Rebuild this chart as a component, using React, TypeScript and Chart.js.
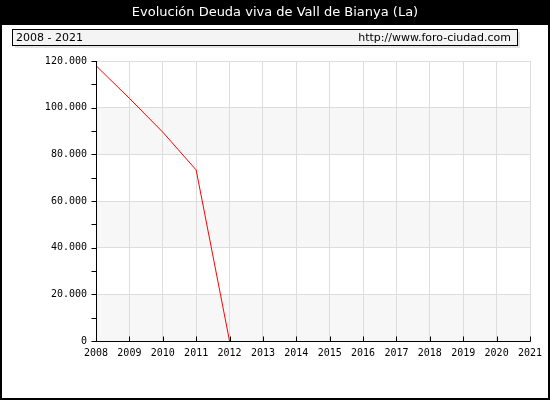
import React, { useEffect, useRef } from "react";
import { Chart, registerables } from "chart.js";
Chart.register(...registerables);

const title = "Evolución Deuda viva de Vall de Bianya (La)";
const periodLabel = "2008 - 2021";
const sourceLabel = "http://www.foro-ciudad.com";
const years = ["2008", "2009", "2010", "2011", "2012", "2013", "2014", "2015", "2016", "2017", "2018", "2019", "2020", "2021"];
const debt: (number | null)[] = [118000, 104000, 89500, 73300, 0, null, null, null, null, null, null, null, null, null];
const yMin = 0;
const yMax = 120000;
const yStep = 20000;
const yMinorStep = 10000;

const fmt = (v: number) => (v === 0 ? "0" : v.toLocaleString("de-DE"));

const decor = {
  id: "decor",
  beforeDraw(chart: any) {
    const { ctx, width, height, chartArea } = chart;
    ctx.save();
    ctx.fillStyle = "#ffffff";
    ctx.fillRect(0, 0, width, height);
    // title bar
    ctx.fillStyle = "#000000";
    ctx.fillRect(0, 0, width, 25);
    ctx.fillStyle = "#ffffff";
    ctx.font = '13px "DejaVu Sans"';
    ctx.textAlign = "center";
    ctx.textBaseline = "middle";
    ctx.fillText(title, width / 2, 13);
    // outer frame
    ctx.strokeStyle = "#000000";
    ctx.lineWidth = 2;
    ctx.strokeRect(1, 1, width - 2, height - 2);
    // header box shadow
    ctx.fillStyle = "#e4e4e4";
    ctx.fillRect(15, 32, 505, 16);
    ctx.fillStyle = "#f4f4f4";
    ctx.fillRect(12, 29, 505, 16);
    ctx.lineWidth = 1;
    ctx.strokeRect(12.5, 29.5, 505, 16);
    ctx.fillStyle = "#000000";
    ctx.font = '11px "DejaVu Sans"';
    ctx.textAlign = "left";
    ctx.fillText(periodLabel, 16, 38);
    ctx.textAlign = "right";
    ctx.fillText(sourceLabel, 511, 38);
    // bands
    const y = chart.scales.y;
    for (let v = yMin; v < yMax; v += yStep * 2) {
      const y0 = y.getPixelForValue(v);
      const y1 = y.getPixelForValue(v + yStep);
      ctx.fillStyle = "#f7f7f7";
      ctx.fillRect(chartArea.left, y1, chartArea.right - chartArea.left, y0 - y1);
    }
    ctx.restore();
  },
  afterDraw(chart: any) {
    const { ctx, chartArea } = chart;
    const y = chart.scales.y;
    const x = chart.scales.x;
    ctx.save();
    ctx.strokeStyle = "#000000";
    ctx.lineWidth = 1;
    ctx.beginPath();
    const l = Math.round(chartArea.left) + 0.5;
    const b = Math.round(chartArea.bottom) + 0.5;
    ctx.moveTo(l, Math.round(chartArea.top));
    ctx.lineTo(l, b);
    ctx.lineTo(Math.round(chartArea.right) + 0.5, b);
    for (let v = yMin; v <= yMax; v += yMinorStep) {
      const py = Math.round(y.getPixelForValue(v)) + 0.5;
      ctx.moveTo(l - 5, py);
      ctx.lineTo(l, py);
    }
    for (let i = 0; i < years.length; i++) {
      const px = Math.round(x.getPixelForValue(i)) + 0.5;
      ctx.moveTo(px, b);
      ctx.lineTo(px, b - 5);
    }
    ctx.stroke();
    ctx.restore();
  },
};

export default function App() {
  const ref = useRef<HTMLCanvasElement>(null);
  useEffect(() => {
    const chart = new Chart(ref.current!, {
      type: "line",
      data: {
        labels: years,
        datasets: [
          {
            data: debt,
            borderColor: "#ff0000",
            borderWidth: 1,
            pointRadius: 0,
            fill: false,
            tension: 0,
            spanGaps: false,
          },
        ],
      },
      options: {
        responsive: false,
        animation: false,
        layout: { padding: { top: 61, right: 20, bottom: 0, left: 0 } },
        plugins: { legend: { display: false }, tooltip: { enabled: false }, title: { display: false } },
        scales: {
          x: {
            offset: false,
            grid: { color: "#dddddd", drawTicks: false },
            border: { display: false },
            ticks: { color: "#000", font: { family: "DejaVu Sans Mono", size: 10 }, padding: 6, maxRotation: 0, autoSkip: false },
            afterFit: (s: any) => { s.height = 59; },
          },
          y: {
            min: yMin,
            max: yMax,
            grid: { color: "#dddddd", drawTicks: false },
            border: { display: false },
            ticks: {
              stepSize: yStep,
              color: "#000",
              font: { family: "DejaVu Sans Mono", size: 10 },
              padding: 9,
              callback: (v: any) => fmt(Number(v)),
            },
            afterFit: (s: any) => { s.width = 96; },
          },
        },
      },
      plugins: [decor],
    });
    return () => chart.destroy();
  }, []);
  return (
    <div style={{ position: "absolute", left: 0, top: 0, width: 550, height: 400 }}>
      <canvas ref={ref} width={550} height={400} />
    </div>
  );
}
